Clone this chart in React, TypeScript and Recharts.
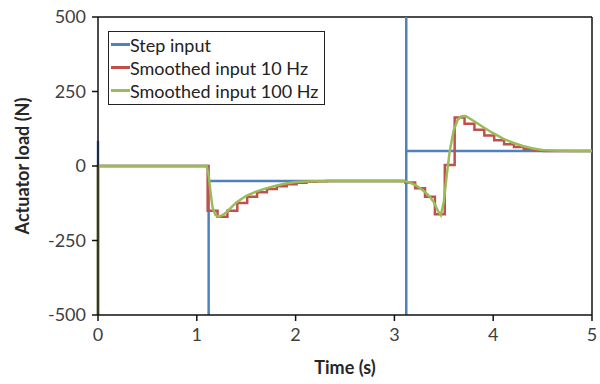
import { LineChart, Line, XAxis, YAxis, Legend, ReferenceLine, Label } from 'recharts';

// Step input (blue)
const stepTime = [0, 0, 0, 1.12, 1.12, 1.12, 3.12, 3.12, 3.12, 3.12, 5];
const stepLoad = [85, -500, 0, 0, -500, -50, -50, -500, 500, 50, 50];

// Smoothed input 10 Hz (red, zero-order hold)
const red10Time = [0, 0, 1.11, 1.21, 1.31, 1.41, 1.51, 1.61, 1.71, 1.81, 1.91, 2.01, 2.11, 2.21, 2.31,
  3.11, 3.21, 3.31, 3.41, 3.51, 3.61, 3.71, 3.81, 3.91, 4.01, 4.11, 4.21, 4.31, 4.41, 4.51, 5];
const red10Load = [-500, 0, -150, -170, -150, -124, -103, -88, -77, -68, -61, -56, -53, -51, -50,
  -55, -75, -103, -162, 3, 163, 142, 122, 102, 86, 73, 64, 57, 53, 50, 50];

// Smoothed input 100 Hz (green)
const green100Time = [0, 0, 1.1, 1.12, 1.14, 1.16, 1.19, 1.22, 1.26, 1.3, 1.4, 1.5, 1.6, 1.7, 1.8, 1.9,
  2.0, 2.1, 2.2, 2.4, 3.0, 3.1, 3.15, 3.2, 3.25, 3.3, 3.35, 3.4, 3.44, 3.47, 3.5, 3.53, 3.56, 3.6,
  3.64, 3.68, 3.72, 3.8, 3.9, 4.0, 4.1, 4.2, 4.3, 4.4, 4.5, 4.6, 4.7, 4.8, 5];
const green100Load = [-500, 0, 0, -30, -90, -140, -165, -170, -165, -155, -122, -100, -86, -75, -66, -59,
  -54, -52, -51, -50, -50, -51, -55, -62, -72, -85, -100, -122, -150, -165, -120, -30, 50, 120,
  155, 167, 168, 152, 130, 110, 92, 78, 67, 59, 54, 52, 51, 50, 50];

const timeTicks = [0, 1, 2, 3, 4, 5];
const loadTicks = [-500, -250, 0, 250, 500];

const toPoints = (t: number[], v: number[]) => t.map((time, i) => ({ time, load: v[i] }));

const series = [
  { name: 'Step input', color: '#4F81BD', kind: 'linear', data: toPoints(stepTime, stepLoad) },
  { name: 'Smoothed input 10 Hz', color: '#C0504D', kind: 'stepAfter', data: toPoints(red10Time, red10Load) },
  { name: 'Smoothed input 100 Hz', color: '#9BBB59', kind: 'linear', data: toPoints(green100Time, green100Load) },
];

const font = 'Lato, "Open Sans", sans-serif';

function LegendBox(props: any) {
  // keep the series order (recharts sorts the payload by name)
  const items = [...(props.payload || [])].sort(
    (a: any, b: any) => series.findIndex((s) => s.name === a.value) - series.findIndex((s) => s.name === b.value)
  );
  return (
    <div style={{ border: '1.5px solid #222', background: '#fff', padding: '1px 6px 2px 2px', fontFamily: font }}>
      {items.map((entry: any) => (
        <div key={entry.value} style={{ display: 'flex', alignItems: 'center', height: 23 }}>
          <span style={{ width: 19, height: 3, background: entry.color, display: 'inline-block' }} />
          <span style={{ fontSize: 18, color: '#222' }}>{entry.value}</span>
        </div>
      ))}
    </div>
  );
}

export default function App() {
  const tick = { fill: '#404040', fontSize: 18, fontFamily: font };
  return (
    <div style={{ position: 'absolute', left: 0, top: 0, width: 600, height: 384, background: '#fff' }}>
      <LineChart width={600} height={384} margin={{ top: 17, right: 8, bottom: 9, left: 8 }}>
        <XAxis
          dataKey="time"
          type="number"
          domain={[0, 5]}
          ticks={timeTicks}
          stroke="#111"
          strokeWidth={1.5}
          tickSize={6}
          tickMargin={7}
          tick={tick}
          height={60}
        >
          <Label value="Time (s)" position="insideBottom" offset={1}
            style={{ fontFamily: font, fontSize: 18, fontWeight: 700, fill: '#262626' }} />
        </XAxis>
        <YAxis
          type="number"
          domain={[-500, 500]}
          ticks={loadTicks}
          stroke="#111"
          strokeWidth={1.5}
          tickSize={6}
          tickMargin={6}
          tick={tick}
          width={90}
        >
          <Label value="Actuator load (N)" angle={-90} position="insideLeft" offset={15}
            style={{ fontFamily: font, fontSize: 18, fontWeight: 700, fill: '#262626', textAnchor: 'middle' }} />
        </YAxis>
        <ReferenceLine y={500} stroke="#111" strokeWidth={1.5} />
        <ReferenceLine x={5} stroke="#111" strokeWidth={1.5} />
        <Legend
          layout="vertical"
          align="center"
          verticalAlign="middle"
          content={<LegendBox />}
          wrapperStyle={{ left: 108, top: 31, width: 'auto' }}
        />
        {series.map((s) => (
          <Line
            key={s.name}
            name={s.name}
            data={s.data}
            dataKey="load"
            type={s.kind as any}
            stroke={s.color}
            strokeWidth={2.5}
            dot={false}
            activeDot={false}
            isAnimationActive={false}
          />
        ))}
      </LineChart>
    </div>
  );
}
